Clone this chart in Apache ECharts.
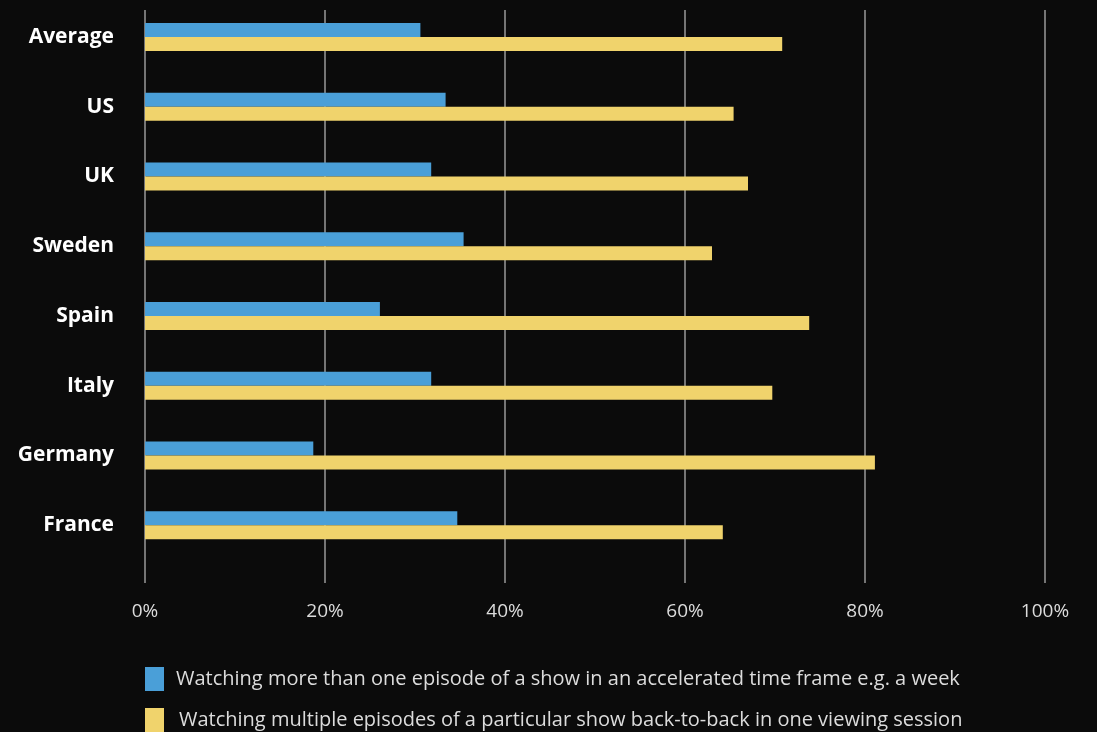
<!DOCTYPE html>
<html><head><meta charset="utf-8">
<script src="https://cdn.jsdelivr.net/npm/echarts@6/dist/echarts.min.js"></script>
<style>html,body{margin:0;padding:0;background:#0b0b0b;}#c{width:1097px;height:732px;}</style>
</head><body><div id="c"></div>
<script>
const categories = ['Average','US','UK','Sweden','Spain','Italy','Germany','France'];
const acceleratedShare = [30.6, 33.4, 31.8, 35.4, 26.1, 31.8, 18.7, 34.7];
const backToBackShare = [70.8, 65.4, 67.0, 63.0, 73.8, 69.7, 81.1, 64.2];
const tickValues = [0, 20, 40, 60, 80, 100];
const seriesNames = ['Watching more than one episode of a show in an accelerated time frame e.g. a week',
  'Watching multiple episodes of a particular show back-to-back in one viewing session'];

const legendText = {color: '#dcdcdc', fontSize: 20, fontFamily: 'Open Sans'};
const chart = echarts.init(document.getElementById('c'));
chart.setOption({
  backgroundColor: '#0b0b0b',
  animation: false,
  textStyle: {fontFamily: 'Open Sans'},
  grid: [
    {left: 145, right: 52, top: 2, height: 558},
    {left: 145, right: 52, top: 10, height: 573}
  ],
  legend: [
    {left: 140, top: 662, itemWidth: 19, itemHeight: 24, icon: 'rect', itemGap: 10,
      textStyle: Object.assign({}, legendText, {padding: [0, 0, 0, 7]}), data: [seriesNames[0]], selectedMode: false},
    {left: 140, top: 703, itemWidth: 19, itemHeight: 24, icon: 'rect', itemGap: 10,
      textStyle: Object.assign({}, legendText, {padding: [0, 0, 0, 10]}), data: [seriesNames[1]], selectedMode: false}
  ],
  xAxis: [
    {gridIndex: 0, type: 'value', min: 0, max: 100, show: false},
    {gridIndex: 1, type: 'value', min: 0, max: 100, interval: 20,
      axisLine: {show: false}, axisTick: {show: false},
      splitLine: {show: true, lineStyle: {color: '#9a9a9a', width: 1.5}},
      axisLabel: {color: '#dcdcdc', fontSize: 19, margin: 19, formatter: v => v + '%'}}
  ],
  yAxis: [
    {gridIndex: 0, type: 'category', data: categories, inverse: true,
      axisLine: {show: false}, axisTick: {show: false},
      axisLabel: {color: '#ffffff', fontSize: 21, fontWeight: 'bold', margin: 31}},
    {gridIndex: 1, type: 'value', show: false}
  ],
  series: [
    {name: seriesNames[0], type: 'bar', xAxisIndex: 0, yAxisIndex: 0, data: acceleratedShare,
      barWidth: 14, barGap: '0%', itemStyle: {color: '#4a9fd8'}, z: 3},
    {name: seriesNames[1], type: 'bar', xAxisIndex: 0, yAxisIndex: 0, data: backToBackShare,
      barWidth: 14, barGap: '0%', itemStyle: {color: '#f0d36c'}, z: 3},
    {type: 'line', xAxisIndex: 1, yAxisIndex: 1, data: [], silent: true}
  ]
});
</script></body></html>
